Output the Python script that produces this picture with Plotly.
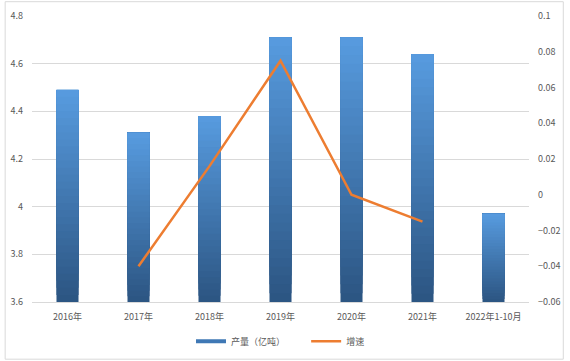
import plotly.graph_objects as go

categories = ["2016年", "2017年", "2018年", "2019年", "2020年", "2021年", "2022年1-10月"]
output_values = [4.49, 4.31, 4.38, 4.71, 4.71, 4.64, 3.97]
growth_values = [None, -0.04, 0.016, 0.075, 0.0, -0.015, None]
bar_name = "产量（亿吨）"
line_name = "增速"

axis_min = 3.6
n_seg = 30
top_rgb = (88, 156, 224)
bot_rgb = (44, 85, 130)

fig = go.Figure()
for i in range(n_seg):
    t = (i + 0.5) / n_seg
    r = int(bot_rgb[0] + (top_rgb[0] - bot_rgb[0]) * t)
    g = int(bot_rgb[1] + (top_rgb[1] - bot_rgb[1]) * t)
    b = int(bot_rgb[2] + (top_rgb[2] - bot_rgb[2]) * t)
    bases = [axis_min + (v - axis_min) * i / n_seg for v in output_values]
    heights = [v - bb for v, bb in zip(output_values, bases)]
    fig.add_trace(go.Bar(
        x=categories, y=heights, base=bases,
        marker=dict(color=f"rgb({r},{g},{b})", line=dict(width=0)),
        width=0.31, name=bar_name, showlegend=False, hoverinfo="skip", yaxis="y",
    ))

# legend entry for the bars (flat wide swatch)
fig.add_trace(go.Scatter(
    x=[categories[0]], y=[None], mode="lines", name=bar_name + "        ",
    line=dict(color="#3F78B5", width=4), yaxis="y",
))

fig.add_trace(go.Scatter(
    x=categories, y=growth_values, mode="lines", name=line_name,
    line=dict(color="#ED7D31", width=2.5), yaxis="y2",
))

tick_font = dict(family="Noto Sans CJK SC, DejaVu Sans", size=9, color="#595959")

fig.update_layout(
    width=570, height=361,
    margin=dict(l=32, r=41, t=16, b=59, autoexpand=False),
    paper_bgcolor="white", plot_bgcolor="white",
    barmode="overlay",
    showlegend=True,
    legend=dict(orientation="h", x=0.5, xanchor="center", yref="container",
                y=0.055, yanchor="middle",
                font=dict(family="Noto Sans CJK SC, DejaVu Sans", size=9, color="#595959"),
                itemwidth=30, tracegroupgap=0),
    xaxis=dict(type="category", showgrid=False, showline=True, linecolor="#D9D9D9",
               linewidth=1, ticks="", tickfont=tick_font, ticklabelstandoff=6),
    yaxis=dict(range=[3.6, 4.8], dtick=0.2, showgrid=True, gridcolor="#D9D9D9",
               gridwidth=1, zeroline=False, showline=False, tickfont=tick_font,
               ticks="", ticklabelstandoff=8),
    yaxis2=dict(range=[-0.06, 0.1], dtick=0.02, overlaying="y", side="right",
                showgrid=False, zeroline=False, showline=False, tickfont=tick_font,
                ticks="", ticklabelstandoff=8),
    shapes=[dict(type="rect", xref="paper", yref="paper", x0=-0.054, x1=1.069,
                 y0=-0.2, y1=1.05, line=dict(color="#D9D9D9", width=1))],
)

fig.write_html("out.html")
